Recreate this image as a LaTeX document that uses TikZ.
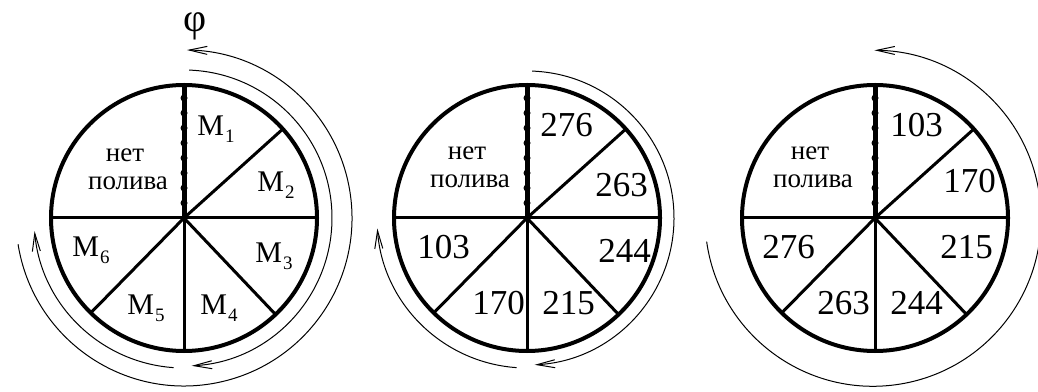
\documentclass[tikz,border=0pt]{standalone}
\usepackage{fontspec}
\setmainfont{Liberation Serif}
\usetikzlibrary{arrows.meta}

\newcommand{\Msec}[1]{M\kern0.5pt\raisebox{-3.5pt}{\fontsize{9.5}{9.5}\selectfont #1}}

\begin{document}
\begin{tikzpicture}[x=0.5pt, y=0.5pt,
    rim/.style={line width=2pt},
    spoke/.style={line width=1.5pt},
    pipe/.style={line width=2.5pt},
    turn/.style={line width=0.5pt, -{Straight Barb[length=9pt,width=4pt]}},
    num/.style={font=\fontsize{17.5}{19}\selectfont, anchor=base west, inner sep=0pt},
    msec/.style={font=\fontsize{15}{17}\selectfont, anchor=base west, inner sep=0pt},
    dry/.style={font=\fontsize{13.5}{15}\selectfont, anchor=base, inner sep=0pt}]
  \useasboundingbox (0,0) rectangle (1038,391);

  % three wheels
  \foreach \cx/\nm in {184/wa, 527/wb, 875/wc} {
    \coordinate (\nm) at (\cx,173);
    \draw[rim] (\nm) circle (133);
    \foreach \ang in {42,0,-46.5,-90,225.5,180}
      \draw[spoke] (\nm) -- ++(\ang:133);
    \draw[pipe] (\nm) -- ++(90:133);
    \foreach \k in {1,...,8}
      \fill (\nm) ++(0,15*\k) circle (3.5);
  }

  % rotation
  \draw[turn] (wa) ++(189:168) arc[start angle=189, end angle=449, radius=168];
  \draw[turn] (wa) ++(88:148) arc[start angle=88, end angle=-87, radius=148];
  \draw[turn] (wa) ++(-94:150) arc[start angle=-94, end angle=-175, radius=150];
  \draw[turn] (wb) ++(88:147) arc[start angle=88, end angle=-87, radius=147];
  \draw[turn] (wb) ++(-94:150) arc[start angle=-94, end angle=-176, radius=150];
  \draw[turn] (wc) ++(188:170) arc[start angle=188, end angle=449.5, radius=168];
  \node[font=\fontsize{20}{20}\selectfont] (phi) at (195,365) {φ};

  % first wheel
  \node[msec] (m1) at (197,255) {\Msec{1}};
  \node[msec] (m2) at (257,199) {\Msec{2}};
  \node[msec] (m3) at (255,128) {\Msec{3}};
  \node[msec] (m4) at (200,76) {\Msec{4}};
  \node[msec] (m5) at (127,76) {\Msec{5}};
  \node[msec] (m6) at (72,134) {\Msec{6}};
  \node[dry] (na) at (125,229) {нет};
  \node[dry] (pa) at (128,201) {полива};

  % second wheel
  \node[num] (b1) at (540,254) {276};
  \node[num] (b2) at (595,194) {263};
  \node[num] (b3) at (598,128) {244};
  \node[num] (b4) at (542,76) {215};
  \node[num] (b5) at (472,76) {170};
  \node[num] (b6) at (417,133) {103};
  \node[dry] (nb) at (467,231) {нет};
  \node[dry] (pb) at (470,203) {полива};

  % third wheel
  \node[num] (c1) at (890,254) {103};
  \node[num] (c2) at (943,198) {170};
  \node[num] (c3) at (940,133) {215};
  \node[num] (c4) at (890,76) {244};
  \node[num] (c5) at (817,76) {263};
  \node[num] (c6) at (762,133) {276};
  \node[dry] (nc) at (810,231) {нет};
  \node[dry] (pc) at (813,203) {полива};
\end{tikzpicture}
\end{document}
